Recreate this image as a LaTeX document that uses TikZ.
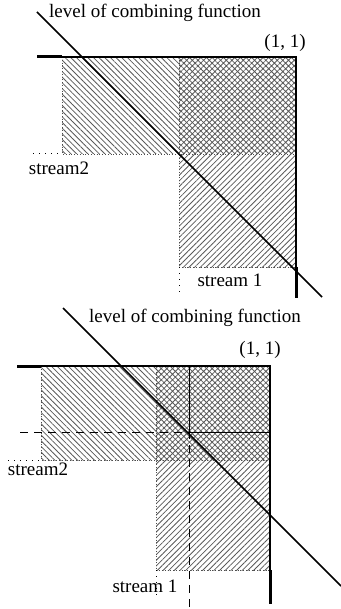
\documentclass[tikz,border=0pt]{standalone}
\usepackage{fontspec}
\setmainfont{Liberation Serif}
\usetikzlibrary{patterns.meta}

\tikzset{
  nwhatch/.style={pattern={Lines[angle=-45,distance=2pt,line width=0.4pt]},pattern color=black!65},
  nehatch/.style={pattern={Lines[angle=45,distance=2pt,line width=0.4pt]},pattern color=black!65},
  xhatch/.style={pattern={Hatch[angle=45,distance=2pt,line width=0.4pt]},pattern color=black!65},
  rim/.style={densely dotted,line width=0.4pt,black!70},
  farrim/.style={dash pattern=on 0.5pt off 2.5pt,line width=0.5pt},
  outline/.style={line width=0.75pt},
  heavy/.style={line width=1.5pt},
  lvlline/.style={line width=0.75pt},
  guide/.style={dash pattern=on 4pt off 3pt,line width=0.5pt},
  txt/.style={font=\fontsize{9.5pt}{11pt}\selectfont,inner sep=0pt}
}

\begin{document}
\begin{tikzpicture}[x=0.5pt,y=-0.5pt]
\useasboundingbox (0,0) rectangle (341,609);
% upper square
\coordinate (a0) at (37,57);
\coordinate (a1) at (62,57);
\coordinate (a2) at (179,57);
\coordinate (a3) at (296,57);
\coordinate (a4) at (62,154);
\coordinate (a5) at (179,154);
\coordinate (a6) at (296,154);
\coordinate (a7) at (179,267);
\coordinate (a8) at (296,267);
\coordinate (a9) at (296,298);
\coordinate (ad) at (33,154);
\coordinate (ae) at (179,295);
\coordinate (as) at (37,12);
\coordinate (at) at (322,297);
\fill[nwhatch] (a1) rectangle (a5);
\fill[xhatch] (a2) rectangle (a6);
\fill[nehatch] (a5) rectangle (a8);
\draw[rim] (a1) -- (a4) -- (a6) (a2) -- (a5) -- (a7) -- (a8);
\draw[farrim] (ad) -- (a4) (a7) -- (ae);
\draw[heavy] (a0) -- (a1);
\draw[outline] (a1) -- (a3) -- (a8);
\draw[heavy] (a8) -- (a9);
\draw[lvlline] (as) -- (at);
\node[txt] (alevel) at (155,13) {level of combining function};
\node[txt] (aone) at (285,43) {(1, 1)};
\node[txt] (astrtwo) at (59,168) {stream2};
\node[txt] (astrone) at (230,280) {stream 1};
% lower square
\coordinate (b0) at (17,366);
\coordinate (b1) at (41,366);
\coordinate (b2) at (156,366);
\coordinate (b3) at (270,366);
\coordinate (b4) at (41,460);
\coordinate (b5) at (156,460);
\coordinate (b6) at (270,460);
\coordinate (b7) at (156,570);
\coordinate (b8) at (270,570);
\coordinate (b9) at (270,604);
\coordinate (bd) at (8,460);
\coordinate (be) at (156,598);
\coordinate (bp) at (189,432);
\coordinate (bq) at (189,366);
\coordinate (br) at (270,432);
\coordinate (bu) at (20,432);
\coordinate (bv) at (189,608);
\coordinate (bs) at (63,308);
\coordinate (bt) at (341,586);
\fill[nwhatch] (b1) rectangle (b5);
\fill[xhatch] (b2) rectangle (b6);
\fill[nehatch] (b5) rectangle (b8);
\draw[rim] (b1) -- (b4) -- (b6) (b2) -- (b5) -- (b7) -- (b8);
\draw[farrim] (bd) -- (b4) (b7) -- (be);
\draw[outline,line width=0.5pt] (bq) -- (bp) -- (br);
\draw[guide] (bu) -- (bp) -- (bv);
\draw[heavy] (b0) -- (b1);
\draw[outline] (b1) -- (b3) -- (b8);
\draw[heavy] (b8) -- (b9);
\draw[lvlline] (bs) -- (bt);
\node[txt] (blevel) at (195,318) {level of combining function};
\node[txt] (bone) at (260,350) {(1, 1)};
\node[txt] (bstrtwo) at (38,469) {stream2};
\node[txt] (bstrone) at (145,586) {stream 1};
\end{tikzpicture}
\end{document}
